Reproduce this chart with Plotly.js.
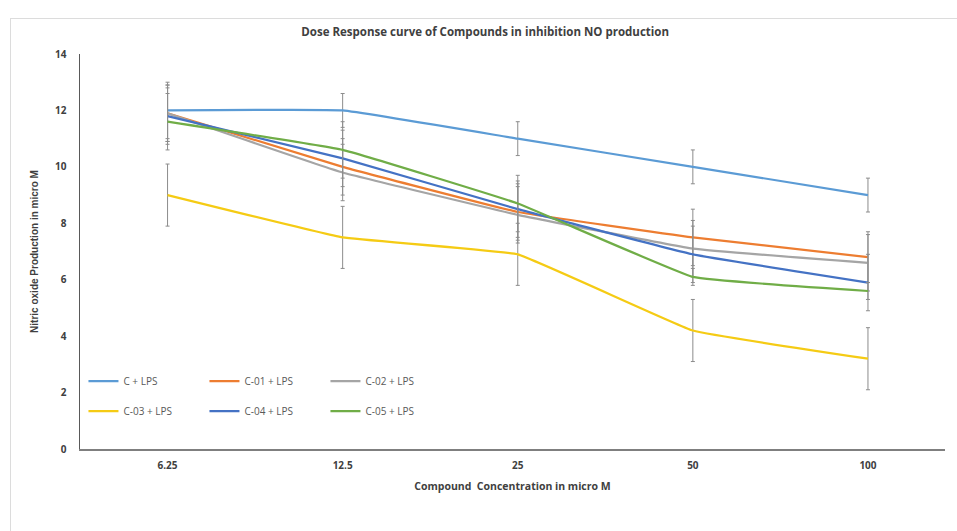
<!DOCTYPE html>
<html>
<head>
<meta charset="utf-8">
<script src="https://cdn.plot.ly/plotly-3.0.1.min.js"></script>
<style>
html,body{margin:0;padding:0;background:#fff;}
#chart{position:absolute;left:0;top:0;width:957px;height:531px;}
#frame{position:absolute;left:10px;top:18px;width:947px;height:513px;border:1px solid #dcdcdc;border-right:none;border-bottom:none;box-sizing:border-box;pointer-events:none;}
</style>
</head>
<body>
<div id="chart"></div>
<div id="frame"></div>
<script>
const categories = ["6.25", "12.5", "25", "50", "100"];
const seriesNames = ["C + LPS", "C-01 + LPS", "C-02 + LPS", "C-03 + LPS", "C-04 + LPS", "C-05 + LPS"];
const cLps   = [12.0, 12.0, 11.0, 10.0, 9.0];
const c01Lps = [11.9, 10.0, 8.4, 7.5, 6.8];
const c02Lps = [11.9, 9.8, 8.3, 7.1, 6.6];
const c03Lps = [9.0, 7.5, 6.9, 4.2, 3.2];
const c04Lps = [11.8, 10.3, 8.5, 6.9, 5.9];
const c05Lps = [11.6, 10.6, 8.7, 6.1, 5.6];
const errCLps = [1.0, 0.6, 0.6, 0.6, 0.6];
const errC01  = [1.0, 1.0, 1.0, 1.0, 0.9];
const errC02  = [1.0, 1.0, 1.0, 1.0, 1.0];
const errC03  = [1.1, 1.1, 1.1, 1.1, 1.1];
const errC04  = [1.0, 1.0, 1.0, 1.0, 1.0];
const errC05  = [1.0, 1.0, 1.0, 0.3, 0.3];
const yTicks = [0, 2, 4, 6, 8, 10, 12, 14];

const values = [cLps, c01Lps, c02Lps, c03Lps, c04Lps, c05Lps];
const errors = [errCLps, errC01, errC02, errC03, errC04, errC05];
const colors = ["#5B9BD5", "#ED7D31", "#A5A5A5", "#F5CB14", "#4472C4", "#70AD47"];
const legendIds = ["legend", "legend", "legend", "legend2", "legend2", "legend2"];

const traces = values.map((v, i) => ({
  type: "scatter",
  mode: "lines",
  x: categories,
  y: v,
  name: seriesNames[i],
  legend: legendIds[i],
  line: {color: colors[i], width: 2.2, shape: "spline", smoothing: 0.25},
  error_y: {type: "data", array: errors[i], visible: true, color: "#8c8c8c", thickness: 1, width: 2}
}));

const font = "'Open Sans', 'Liberation Sans', sans-serif";
const legendCommon = {
  orientation: "h",
  bgcolor: "rgba(0,0,0,0)",
  font: {family: font, size: 10, color: "#595959"},
  entrywidth: 76,
  entrywidthmode: "pixels",
  itemwidth: 30,
  xanchor: "left",
  yanchor: "middle",
  tracegroupgap: 0
};

const layout = {
  width: 957,
  height: 531,
  margin: {l: 80, r: 12, t: 54, b: 82},
  paper_bgcolor: "#ffffff",
  plot_bgcolor: "#ffffff",
  showlegend: true,
  title: {
    text: "<b>Dose Response curve of Compounds in inhibition NO production</b>",
    font: {family: font, size: 11.5, color: "#404040"},
    x: 0.507, xanchor: "center", y: 0.94, yanchor: "middle"
  },
  xaxis: {
    type: "category",
    range: [-0.5, 4.44],
    showgrid: false,
    zeroline: false,
    showline: true,
    linecolor: "#7f7f7f",
    linewidth: 1.5,
    ticks: "",
    ticklabelstandoff: 6,
    tickfont: {family: font, size: 10, color: "#404040", weight: "bold"},
    title: {text: "<b>Compound  Concentration in micro M</b>", font: {family: font, size: 10.5, color: "#404040"}, standoff: 12}
  },
  yaxis: {
    range: [0, 14],
    tickvals: yTicks,
    showgrid: false,
    zeroline: false,
    showline: true,
    linecolor: "#595959",
    linewidth: 1.5,
    ticks: "",
    ticklabelstandoff: 10,
    tickfont: {family: font, size: 10, color: "#404040", weight: "bold"},
    title: {text: "<b>Nitric oxide Production in micro M</b>", font: {family: "'Liberation Sans Narrow', 'Liberation Sans', sans-serif", size: 10, color: "#404040"}, standoff: 14}
  },
  legend: Object.assign({}, legendCommon, {x: 0.004, y: 0.172}),
  legend2: Object.assign({}, legendCommon, {x: 0.004, y: 0.096})
};

Plotly.newPlot("chart", traces, layout, {displayModeBar: false, staticPlot: true});
</script>
</body>
</html>
